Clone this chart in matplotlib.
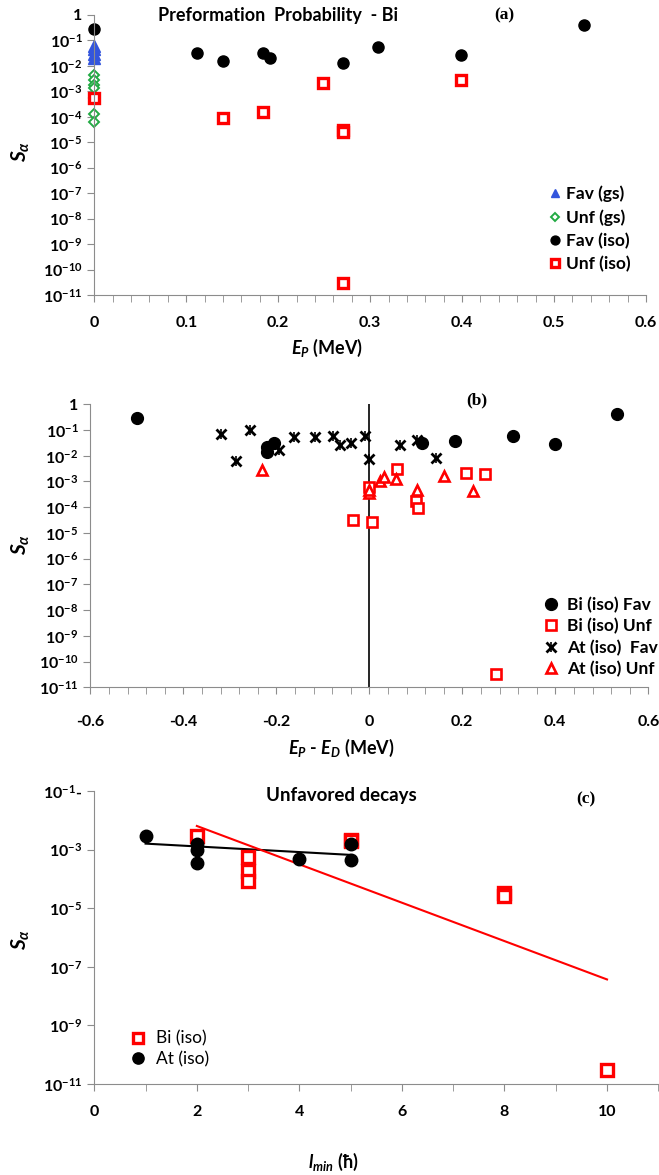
import numpy as np
import matplotlib
matplotlib.use("Agg")
import matplotlib.pyplot as plt
from matplotlib.ticker import FixedLocator, NullFormatter

plt.rcParams["font.family"] = ["Lato", "DejaVu Sans"]
plt.rcParams["font.weight"] = "bold"
plt.rcParams["mathtext.fontset"] = "custom"
plt.rcParams["mathtext.rm"] = "Lato:bold"
plt.rcParams["mathtext.it"] = "Lato:bold:italic"
plt.rcParams["mathtext.bf"] = "Lato:bold"

# ---- panel (a): Bi, S_alpha vs E_P ----
a_fav_gs_x = [0, 0, 0, 0]
a_fav_gs_y = [0.062, 0.045, 0.03, 0.02]
a_unf_gs_x = [0, 0, 0, 0, 0, 0, 0]
a_unf_gs_y = [4.4e-3, 2.8e-3, 1.8e-3, 1.3e-3, 5.5e-4, 1.3e-4, 6.5e-5]
a_fav_iso_x = [0, 0.112, 0.14, 0.184, 0.191, 0.271, 0.308, 0.399, 0.533]
a_fav_iso_y = [0.27, 0.031, 0.015, 0.033, 0.02, 0.0134, 0.054, 0.027, 0.42]
a_unf_iso_x = [0, 0.14, 0.184, 0.249, 0.271, 0.271, 0.271, 0.399]
a_unf_iso_y = [5.6e-4, 8.7e-5, 1.6e-4, 2.1e-3, 3.1e-5, 2.5e-5, 3e-11, 2.8e-3]
a_xticks = [0, 0.1, 0.2, 0.3, 0.4, 0.5, 0.6]
a_xlabels = ["0", "0.1", "0.2", "0.3", "0.4", "0.5", "0.6"]

# ---- panel (b): S_alpha vs E_P - E_D ----
b_bi_fav_x = [-0.50, -0.22, -0.22, -0.206, 0.113, 0.184, 0.308, 0.399, 0.532]
b_bi_fav_y = [0.29, 0.022, 0.014, 0.032, 0.03, 0.037, 0.059, 0.028, 0.43]
b_bi_unf_x = [-0.034, 0.005, 0.0, 0.059, 0.1, 0.104, 0.209, 0.249, 0.272]
b_bi_unf_y = [3.2e-5, 2.6e-5, 6.3e-4, 3.1e-3, 1.8e-4, 9e-5, 2.2e-3, 2e-3, 3.3e-11]
b_at_fav_x = [-0.319, -0.287, -0.257, -0.194, -0.163, -0.117, -0.079, -0.063,
              -0.039, -0.009, 0.0, 0.066, 0.103, 0.143]
b_at_fav_y = [0.068, 6.3e-3, 0.1, 0.017, 0.052, 0.054, 0.06, 0.026,
              0.032, 0.06, 7.3e-3, 0.026, 0.041, 7.9e-3]
b_at_unf_x = [-0.231, 0.0, 0.0, 0.022, 0.032, 0.057, 0.103, 0.161, 0.224]
b_at_unf_y = [2.8e-3, 3.5e-4, 4.7e-4, 1.07e-3, 1.5e-3, 1.3e-3, 4.7e-4, 1.6e-3, 4.4e-4]
b_xticks = [-0.6, -0.4, -0.2, 0, 0.2, 0.4, 0.6]
b_xlabels = ["-0.6", "-0.4", "-0.2", "0", "0.2", "0.4", "0.6"]

# ---- panel (c): unfavored decays vs l_min ----
c_bi_x = [2, 3, 3, 3, 5, 5, 8, 8, 10]
c_bi_y = [2.8e-3, 5.7e-4, 1.8e-4, 8.7e-5, 2.2e-3, 2.0e-3, 3.3e-5, 2.6e-5, 3e-11]
c_at_x = [1, 2, 2, 2, 4, 5, 5]
c_at_y = [2.8e-3, 1.6e-3, 1.0e-3, 3.4e-4, 4.7e-4, 1.5e-3, 4.4e-4]
# trend lines as drawn
c_at_fit_x = [1, 5]
c_at_fit_y = [1.6e-3, 6.6e-4]
c_bi_fit_x = [2, 10]
c_bi_fit_y = [6.4e-3, 3.7e-8]
c_xticks = [0, 2, 4, 6, 8, 10]

W, H = 659, 1175
fig = plt.figure(figsize=(W / 100, H / 100), dpi=100)


def box(l, t, r, b):
    return [l / W, 1 - b / H, (r - l) / W, (b - t) / H]


def ftext(px, py, s, **kw):
    fig.text(px / W, 1 - py / H, s, ha="center", va="center", **kw)


def style(ax):
    for s in ["top", "right"]:
        ax.spines[s].set_visible(False)
    for s in ["left", "bottom"]:
        ax.spines[s].set_color("#8c8c8c")
    ax.set_yscale("log")
    ax.minorticks_off()
    ax.tick_params(which="both", color="#8c8c8c", direction="out", labelsize=11.5)
    ax.tick_params(which="major", length=5)
    ax.tick_params(which="minor", length=5)


def sup(e):
    return r"$\mathrm{10^{%d}}$" % e


def minor(ax, lo, hi, step):
    ax.xaxis.set_minor_locator(FixedLocator(np.arange(lo, hi + step / 2, step)))
    ax.xaxis.set_minor_formatter(NullFormatter())


sq = dict(marker="s", mfc="white", mec="red", ls="none")

# panel (a)
ax = fig.add_axes(box(94.3, 15, 646, 295))
style(ax)
ax.plot(a_fav_gs_x, a_fav_gs_y, marker="^", color="#3355dd", ls="none", ms=8, label="Fav (gs)", clip_on=False)
ax.plot(a_unf_gs_x, a_unf_gs_y, marker="D", mfc="white", mec="#22aa44", mew=1.4, ls="none", ms=5.5,
        label="Unf (gs)", clip_on=False)
ax.plot(a_fav_iso_x, a_fav_iso_y, marker="o", color="black", ls="none", ms=8, label="Fav (iso)", clip_on=False)
ax.plot(a_unf_iso_x, a_unf_iso_y, ms=7, mew=2.4, label="Unf (iso)", clip_on=False, **sq)
ax.set_xlim(0, 0.6)
ax.set_ylim(1e-11, 1)
ax.set_yticks([10.0 ** e for e in range(-11, 1)])
ax.set_yticklabels([sup(e) for e in range(-11, 0)] + ["1"])
ax.set_xticks(a_xticks)
ax.set_xticklabels(a_xlabels)
minor(ax, 0, 0.6, 0.02)
ax.tick_params(axis="x", pad=10)
ax.legend(loc="center left", bbox_to_anchor=(538 / W, 1 - 229 / H), bbox_transform=fig.transFigure,
          frameon=False, fontsize=12.5, handletextpad=0.1, handlelength=1.0, labelspacing=0.4,
          borderpad=0, markerscale=0.8)
ftext(278, 15, "Preformation  Probability  - Bi", fontsize=13)
ftext(504, 15, "(a)", fontsize=12.5, family="Liberation Serif")
ftext(327, 348, r"$E_P$ (MeV)", fontsize=13)
ftext(21, 152, r"$S_\alpha$", fontsize=15, rotation=90)

# panel (b)
ax = fig.add_axes(box(90.3, 404.3, 648.3, 687.3))
style(ax)
ax.axvline(0, color="black", lw=1.2)
ax.plot(b_bi_fav_x, b_bi_fav_y, marker="o", color="black", ls="none", ms=8.5, label="Bi (iso) Fav")
ax.plot(b_bi_unf_x, b_bi_unf_y, ms=7.5, mew=1.9, label="Bi (iso) Unf", **sq)
h1, = ax.plot(b_at_fav_x, b_at_fav_y, marker="x", color="black", ls="none", ms=6.5, mew=2)
h2, = ax.plot(b_at_fav_x, b_at_fav_y, marker="|", color="black", ls="none", ms=6.5, mew=1.2)
h3, = ax.plot(b_at_unf_x, b_at_unf_y, marker="^", mfc="white", mec="red", ls="none", ms=7.5, mew=1.9)
hb = ax.get_legend_handles_labels()[0]
ax.legend(hb + [(h1, h2), h3], ["Bi (iso) Fav", "Bi (iso) Unf", "At (iso)  Fav", "At (iso) Unf"],
          loc="center left", bbox_to_anchor=(532 / W, 1 - 637 / H), bbox_transform=fig.transFigure,
          frameon=False, fontsize=12.5, handletextpad=0.3, handlelength=1.2, labelspacing=0.3,
          borderpad=0)
ax.set_xlim(-0.6, 0.6)
ax.set_ylim(1e-11, 1)
ax.set_yticks([10.0 ** e for e in range(-11, 1)])
ax.set_yticklabels([sup(e) for e in range(-11, 0)] + ["1"])
ax.set_xticks(b_xticks)
ax.set_xticklabels(b_xlabels)
minor(ax, -0.6, 0.6, 0.04)
ax.tick_params(axis="x", pad=15)
ftext(476.7, 400, "(b)", fontsize=12.5, family="Liberation Serif")
ftext(341, 748, r"$E_P$ - $E_D$ (MeV)", fontsize=13)
ftext(21, 545, r"$S_\alpha$", fontsize=15, rotation=90)

# panel (c)
ax = fig.add_axes(box(94.3, 791, 658.3, 1084))
style(ax)
ax.plot(c_at_fit_x, c_at_fit_y, color="black", lw=1.5)
ax.plot(c_bi_fit_x, c_bi_fit_y, color="red", lw=1.5)
ax.plot(c_bi_x, c_bi_y, ms=8, mew=2.4, label="Bi (iso)", **sq)
ax.plot(c_at_x, c_at_y, marker="o", color="black", ls="none", ms=9, label="At (iso)")
ax.set_xlim(0, 11)
ax.set_ylim(1e-11, 1e-1)
ax.set_yticks([10.0 ** e for e in range(-11, 0, 2)])
ax.set_yticklabels([sup(e) for e in range(-11, -1, 2)] + [r"$\mathrm{10^{-1}}$-"])
ax.set_xticks(c_xticks)
ax.set_xticklabels([str(v) for v in c_xticks])
minor(ax, 1, 11, 2)
ax.tick_params(axis="x", pad=10)
leg = ax.legend(loc="center left", bbox_to_anchor=(121 / W, 1 - 1049 / H), bbox_transform=fig.transFigure,
                frameon=False, fontsize=12.5, handletextpad=0.5, handlelength=1.0, labelspacing=0.25,
                borderpad=0, markerscale=0.9)
for t in leg.get_texts():
    t.set_fontweight("normal")
ftext(341.7, 795, "Unfavored decays", fontsize=13.5)
ftext(586, 799, "(c)", fontsize=12.5, family="Liberation Serif")
ftext(333, 1162, r"$l_{min}$ (ħ)", fontsize=13)
ftext(21, 940, r"$S_\alpha$", fontsize=15, rotation=90)

fig.savefig("out.png", dpi=100)
